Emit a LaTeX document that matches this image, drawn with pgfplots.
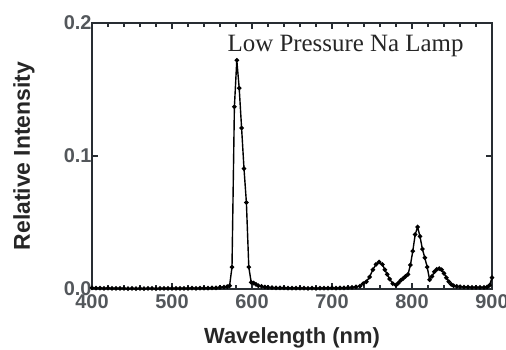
\documentclass[border=0pt]{standalone}
\usepackage{pgfplots}
\pgfplotsset{compat=1.18}
\usepackage{fontspec}
\setmainfont{Liberation Sans}
\newfontfamily\serifff{Liberation Serif}
\definecolor{axisgray}{RGB}{40,45,50}
\begin{document}
\begin{tikzpicture}
\path[use as bounding box] (-92bp,-61bp) rectangle (414bp,289bp);
\begin{axis}[
  at={(0,0)}, anchor=south west,
  scale only axis, width=400bp, height=266bp,
  xmin=400, xmax=900, ymin=0, ymax=0.2,
  xtick={400,500,...,900}, ytick={0,0.1,0.2},
  minor x tick num=4,
  tick align=inside,
  major tick length=6bp, minor tick length=4bp,
  axis line style={axisgray, line width=1.6bp},
  every tick/.style={axisgray, line width=1.2bp},
  /pgf/number format/assume math mode=true,
  yticklabel style={/pgf/number format/fixed, /pgf/number format/fixed zerofill, /pgf/number format/precision=1, xshift=3bp},
  ticklabel style={font=\fontsize{20}{22}\selectfont\bfseries, text=axisgray!80},
  xticklabel style={yshift=-2bp},
  xlabel={Wavelength (nm)},
  ylabel={Relative Intensity},
  label style={font=\fontsize{22}{24}\selectfont\bfseries, text=black!85},
  xlabel style={at={(axis description cs:0.5,-0.183)}, anchor=center},
  ylabel style={at={(axis description cs:-0.17,0.5)}, anchor=center, font=\fontsize{23}{25}\selectfont\bfseries},
  clip=false,
]
\addplot[black, line width=1.4bp, mark=*, mark size=1.5bp] coordinates {
(400,0.0008) (405,0.0006) (410,0.0007) (415,0.0005) (420,0.0006) (425,0.0005)
(430,0.0004) (435,0.0005) (440,0.0004) (445,0.0003) (450,0.0004) (455,0.0003)
(460,0.0004) (465,0.0003) (470,0.0004) (475,0.0004) (480,0.0003) (485,0.0004)
(490,0.0004) (495,0.0005) (500,0.0004) (505,0.0005) (510,0.0004) (515,0.0005)
(520,0.0005) (525,0.0006) (530,0.0005) (535,0.0006) (540,0.0006) (545,0.0007)
(550,0.0008) (555,0.0009) (560,0.0012) (565,0.0015) (569,0.0018) (572,0.0025)
(575,0.0165) (578,0.137) (581,0.172) (584,0.151) (587,0.121) (590,0.0905)
(593,0.065) (596,0.0165) (599,0.005) (602,0.0045) (605,0.0035) (608,0.0025)
(612,0.002) (616,0.0015) (620,0.0012) (625,0.001) (630,0.0009) (635,0.0008)
(640,0.0008) (645,0.0007) (650,0.0007) (655,0.0006) (660,0.0006) (665,0.0006)
(670,0.0005) (675,0.0006) (680,0.0005) (685,0.0006) (690,0.0006) (695,0.0007)
(700,0.0008) (705,0.0007) (710,0.0008) (715,0.0009) (720,0.001) (725,0.0012)
(730,0.0016) (735,0.0022) (739,0.004) (743,0.0055) (747,0.009) (751,0.0145)
(755,0.0185) (759,0.0203) (763,0.0185) (766,0.0145) (769,0.011) (772,0.0075)
(776,0.004) (780,0.003) (783,0.0045) (786,0.0065) (789,0.008) (792,0.0095)
(795,0.011) (798,0.018) (801,0.0285) (804,0.041) (807,0.0466) (810,0.0395)
(813,0.03) (816,0.0235) (819,0.0165) (822,0.007) (825,0.0095) (828,0.013)
(831,0.0148) (834,0.0153) (837,0.0145) (840,0.0118) (843,0.0085) (846,0.0055)
(849,0.0035) (852,0.0025) (856,0.002) (860,0.0017) (865,0.0015) (870,0.0014)
(875,0.0013) (880,0.0013) (885,0.0012) (890,0.0013) (894,0.0015) (897,0.0028)
(900,0.0085)
};
\node[font=\serifff\fontsize{25}{26}\selectfont, text=black!85] at (axis cs:717,0.183) {Low Pressure Na Lamp};
\end{axis}
\end{tikzpicture}
\end{document}
